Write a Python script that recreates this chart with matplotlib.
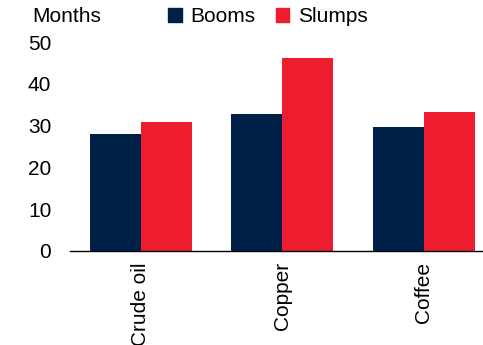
import matplotlib
matplotlib.use("Agg")
import matplotlib.pyplot as plt
import numpy as np
from matplotlib.patches import Patch

categories = ["Crude oil", "Copper", "Coffee"]
booms = [28.0, 32.7, 29.7]
slumps = [30.9, 46.1, 33.3]
yticks = [0, 10, 20, 30, 40, 50]

plt.rcParams['font.family'] = ['Liberation Sans', 'DejaVu Sans']

fig = plt.figure(figsize=(4.83, 3.45), dpi=100)
ax = fig.add_axes([70/483, (345-251)/345, (483-70)/483, (251-42)/345])

x = np.arange(len(categories))
w = 0.36
navy = "#002147"
red = "#ED1C2E"
ax.bar(x - w/2, booms, w, color=navy, label="Booms")
ax.bar(x + w/2, slumps, w, color=red, label="Slumps")

ax.set_xlim(-0.5, 2.42)
ax.set_ylim(0, 50)
ax.set_yticks(yticks)
ax.set_yticklabels([str(t) for t in yticks], fontsize=15)
ax.set_xticks(x)
ax.set_xticklabels(categories, rotation=90, fontsize=15, va="top")
ax.tick_params(axis="both", length=0)
ax.tick_params(axis="y", pad=13.5)
ax.tick_params(axis="x", pad=8)
for s in ["top", "right", "left"]:
    ax.spines[s].set_visible(False)
ax.spines["bottom"].set_color("black")
ax.spines["bottom"].set_linewidth(1.0)

fig.text(32/483, 1 - 17/345, "Months", fontsize=15, va="center", ha="left")

handles = [Patch(color=navy, label="Booms"), Patch(color=red, label="Slumps")]
fig.legend(handles=handles, loc="center left", bbox_to_anchor=(168/483, 1 - 17/345),
           ncol=2, frameon=False, fontsize=15, handlelength=0.65, handleheight=0.65,
           handletextpad=0.4, columnspacing=1.0, borderpad=0, borderaxespad=0)

fig.savefig("out.png", dpi=100)
